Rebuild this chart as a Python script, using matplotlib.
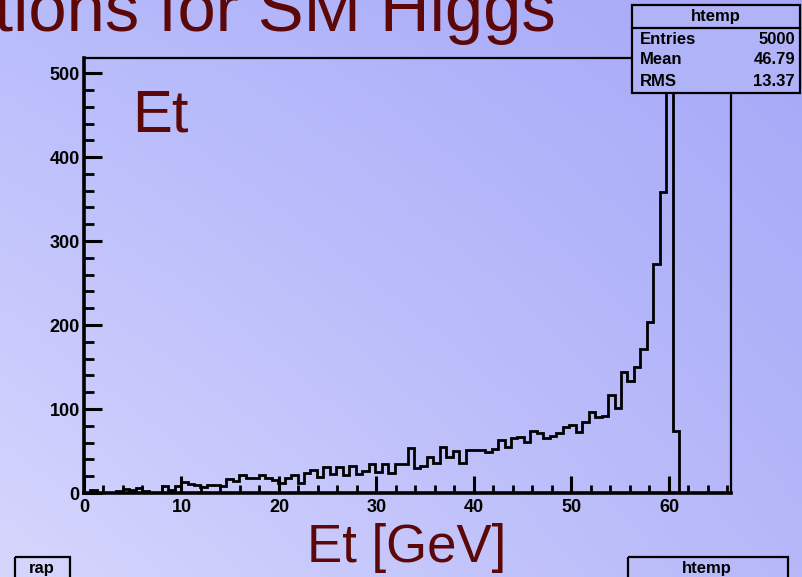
import numpy as np
import matplotlib
matplotlib.use("Agg")
import matplotlib.pyplot as plt
from matplotlib.ticker import MultipleLocator
from matplotlib.patches import Rectangle

# ---------------- data ----------------
x_min, x_max = 0.0, 66.36
n_bins = 100
counts = [
    0, 4, 0, 0, 0, 2, 5, 4, 6, 2,
    0, 0, 8, 4, 8, 13, 11, 10, 7, 9,
    10, 8, 17, 14, 22, 18, 18, 21, 18, 16,
    12, 18, 21, 12, 24, 27, 19, 31, 23, 31,
    22, 32, 23, 26, 35, 25, 35, 24, 34, 35,
    53, 30, 32, 43, 36, 55, 43, 50, 36, 51,
    51, 51, 49, 52, 63, 55, 66, 67, 61, 74,
    71, 66, 68, 71, 79, 81, 73, 85, 96, 90,
    92, 117, 101, 144, 133, 150, 172, 204, 273, 358,
    493, 74, 0, 0, 0, 0, 0, 0, 0, 0,
]
x_ticks = [0, 10, 20, 30, 40, 50, 60]
y_ticks = [0, 100, 200, 300, 400, 500]
y_max = 518
stats_labels = ["Entries", "Mean", "RMS"]
stats_values = ["5000", "46.79", "13.37"]
title_text = "tions for SM Higgs"
hist_label = "Et"
x_label = "Et [GeV]"

# ---------------- figure ----------------
W, H = 802, 577
fig = plt.figure(figsize=(W / 100, H / 100), dpi=100)
FONT = "Liberation Sans"
dark_red = "#5c0808"

# background gradient
bg = fig.add_axes([0, 0, 1, 1], zorder=0)
bg.set_axis_off()
tl = np.array([184, 188, 251]) / 255
tr = np.array([166, 168, 248]) / 255
bl = np.array([214, 214, 253]) / 255
br = np.array([182, 184, 249]) / 255
ny, nx = 60, 80
u = np.linspace(0, 1, nx)[None, :, None]
v = np.linspace(0, 1, ny)[:, None, None]
img = (1 - v) * ((1 - u) * tl + u * tr) + v * ((1 - u) * bl + u * br)
bg.imshow(img, aspect="auto", extent=[0, 1, 0, 1], interpolation="bilinear")
bg.set_xlim(0, 1)
bg.set_ylim(0, 1)

# main axes
left, right, top, bottom = 84, 731, 58, 493
ax = fig.add_axes([left / W, (H - bottom) / H, (right - left) / W, (bottom - top) / H], zorder=2)
ax.set_facecolor("none")
edges = np.linspace(x_min, x_max, n_bins + 1)
ax.stairs(counts, edges, color="black", linewidth=2.0, baseline=0)
ax.set_xlim(x_min, x_max)
ax.set_ylim(0, y_max)

for s in ["top", "right"]:
    ax.spines[s].set_linewidth(1.6)
for s in ["left", "bottom"]:
    ax.spines[s].set_linewidth(2.6)

ax.set_xticks(x_ticks)
ax.set_yticks(y_ticks)
ax.xaxis.set_minor_locator(MultipleLocator(2))
ax.yaxis.set_minor_locator(MultipleLocator(20))
ax.tick_params(axis="both", which="major", direction="in", length=13, width=2.2,
               top=False, right=False, labelsize=13, pad=4)
ax.tick_params(axis="both", which="minor", direction="in", length=7, width=2.0,
               top=False, right=False)
ax.tick_params(axis="x", which="major", length=12)
ax.tick_params(axis="x", which="minor", length=6)
for lab in ax.get_xticklabels() + ax.get_yticklabels():
    lab.set_fontfamily(FONT)
    lab.set_fontweight("bold")
ax.tick_params(axis="y", pad=3)

# "Et" inside plot
fig.text(132 / W, (H - 132) / H, hist_label, fontsize=43, color=dark_red,
         family=FONT, ha="left", va="baseline", zorder=5)

# x axis title
fig.text(407 / W, (H - 562) / H, x_label, fontsize=38, color=dark_red,
         family=FONT, ha="center", va="baseline", zorder=5)

# cut-off title
fig.text(556 / W, (H - 31) / H, title_text, fontsize=49.5, color=dark_red,
         family=FONT, ha="right", va="baseline", zorder=5)

# stats box
ov = fig.add_axes([0, 0, 1, 1], zorder=6)
ov.set_axis_off()
ov.set_xlim(0, W)
ov.set_ylim(H, 0)
ov.add_patch(Rectangle((632, 5), 168, 88, facecolor=(177 / 255, 179 / 255, 249 / 255),
                       edgecolor="black", linewidth=1.6))
ov.plot([632, 800], [27.5, 27.5], color="black", linewidth=1.6)
ov.text(716, 17, "htemp", fontsize=12, fontweight="bold", family=FONT,
        ha="center", va="center")
for i, (lab, val) in enumerate(zip(stats_labels, stats_values)):
    yy = 39 + i * 21
    ov.text(640, yy, lab, fontsize=12, fontweight="bold", family=FONT, ha="left", va="center")
    ov.text(795, yy, val, fontsize=12, fontweight="bold", family=FONT, ha="right", va="center")

# bottom boxes (cut off by the figure edge)
ov.add_patch(Rectangle((15, 557), 55, 30, facecolor="none", edgecolor="black", linewidth=1.6))
ov.text(42, 568, "rap", fontsize=12, fontweight="bold", family=FONT, ha="center", va="center")
ov.add_patch(Rectangle((628, 557), 160, 30, facecolor="none", edgecolor="black", linewidth=1.6))
ov.text(707, 568, "htemp", fontsize=12, fontweight="bold", family=FONT, ha="center", va="center")

fig.savefig("out.png", dpi=100)
